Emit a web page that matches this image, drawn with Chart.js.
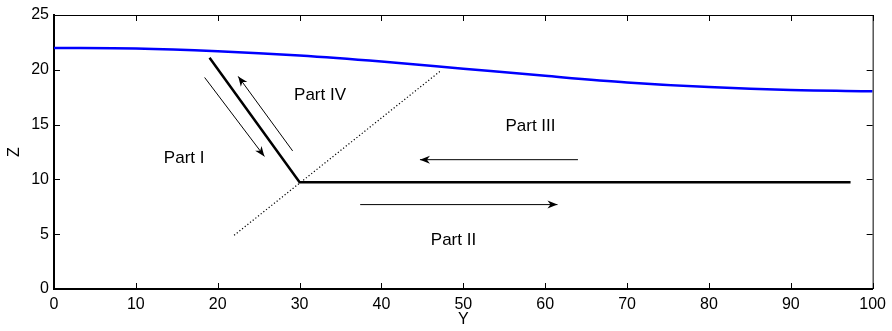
<!DOCTYPE html>
<html>
<head>
<meta charset="utf-8">
<script src="https://cdn.jsdelivr.net/npm/chart.js@4"></script>
<style>
  html, body { margin: 0; padding: 0; background: #fff; }
  #wrap { width: 892px; height: 331px; }
</style>
</head>
<body>
<div id="wrap"><canvas id="chart" width="892" height="331"></canvas></div>
<script>
// free surface (blue curve)
const surfaceY = [0, 10, 20, 30, 40, 50, 60, 70, 80, 90, 100];
const surfaceZ = [22.0, 21.95, 21.7, 21.3, 20.75, 20.1, 19.45, 18.85, 18.42, 18.15, 18.05];

// breakwater outline (thick black)
const wallY = [19, 30, 97.3];
const wallZ = [21.1, 9.75, 9.75];

// dotted divider
const dividerY = [22, 47.3];
const dividerZ = [4.9, 19.95];

// flow arrows: from -> to
const arrowFromY = [18.4, 29.15, 64.0, 37.4];
const arrowFromZ = [19.3, 12.6, 11.8, 7.7];
const arrowToY = [25.7, 22.5, 44.7, 61.5];
const arrowToZ = [12.1, 19.4, 11.8, 7.7];

// region labels
const partLabels = ['Part I', 'Part II', 'Part III', 'Part IV'];
const partY = [15.9, 48.8, 58.2, 32.5];
const partZ = [11.9, 4.45, 14.8, 17.7];

const xTicks = [0, 10, 20, 30, 40, 50, 60, 70, 80, 90, 100];
const yTicks = [0, 5, 10, 15, 20, 25];

const FONT = 'Liberation Sans, Arial, Helvetica, sans-serif';

function pts(xs, ys) {
  return xs.map((x, i) => ({ x: x, y: ys[i] }));
}

const datasets = [
  {
    data: pts(surfaceY, surfaceZ),
    borderColor: '#0000ff',
    borderWidth: 2.5,
    cubicInterpolationMode: 'monotone',
  },
  {
    data: pts(wallY, wallZ),
    borderColor: '#000',
    borderWidth: 2.5,
  },
  {
    data: pts(dividerY, dividerZ),
    borderColor: '#000',
    borderWidth: 1.2,
    borderDash: [1.2, 2.2],
  },
];
arrowFromY.forEach((y, i) => {
  datasets.push({
    data: [{ x: y, y: arrowFromZ[i] }, { x: arrowToY[i], y: arrowToZ[i] }],
    borderColor: '#000',
    borderWidth: 1,
    isArrow: true,
  });
});
datasets.forEach((d) => {
  d.showLine = true;
  d.pointRadius = 0;
  d.pointHoverRadius = 0;
  d.fill = false;
});

// arrowheads, inward ticks, top/right box, text labels
const decorations = {
  id: 'decorations',
  afterDatasetsDraw(chart) {
    const ctx = chart.ctx;
    const xs = chart.scales.x;
    const ys = chart.scales.y;
    const area = chart.chartArea;

    ctx.save();
    // arrowheads
    chart.data.datasets.forEach((ds, i) => {
      if (!ds.isArrow) return;
      const meta = chart.getDatasetMeta(i);
      const a = meta.data[0];
      const b = meta.data[1];
      const ang = Math.atan2(b.y - a.y, b.x - a.x);
      const len = 10, half = 4, back = 7;
      ctx.save();
      ctx.translate(b.x, b.y);
      ctx.rotate(ang);
      ctx.beginPath();
      ctx.moveTo(0, 0);
      ctx.lineTo(-len, -half);
      ctx.lineTo(-back, 0);
      ctx.lineTo(-len, half);
      ctx.closePath();
      ctx.fillStyle = '#000';
      ctx.fill();
      ctx.restore();
    });

    // top and right box lines
    ctx.strokeStyle = '#000';
    ctx.lineWidth = 1;
    ctx.beginPath();
    ctx.moveTo(area.left, area.top + 0.5);
    ctx.lineTo(area.right + 0.5, area.top + 0.5);
    ctx.lineTo(area.right + 0.5, area.bottom);
    ctx.stroke();

    // inward ticks on all four sides
    const tl = 6;
    ctx.beginPath();
    xTicks.forEach((v) => {
      const px = Math.round(xs.getPixelForValue(v)) + 0.5;
      ctx.moveTo(px, area.bottom);
      ctx.lineTo(px, area.bottom - tl);
      ctx.moveTo(px, area.top);
      ctx.lineTo(px, area.top + tl);
    });
    yTicks.forEach((v) => {
      const py = Math.round(ys.getPixelForValue(v)) + 0.5;
      ctx.moveTo(area.left, py);
      ctx.lineTo(area.left + tl, py);
      ctx.moveTo(area.right, py);
      ctx.lineTo(area.right - tl, py);
    });
    ctx.stroke();

    // region labels
    ctx.fillStyle = '#000';
    ctx.font = '17px ' + FONT;
    ctx.textAlign = 'center';
    ctx.textBaseline = 'middle';
    partLabels.forEach((t, i) => {
      ctx.fillText(t, xs.getPixelForValue(partY[i]), ys.getPixelForValue(partZ[i]));
    });
    ctx.restore();
  },
};

new Chart(document.getElementById('chart'), {
  type: 'scatter',
  data: { datasets: datasets },
  options: {
    responsive: false,
    animation: false,
    events: [],
    layout: { padding: { top: 15, right: 17, left: 0, bottom: 0 } },
    plugins: {
      legend: { display: false },
      tooltip: { enabled: false },
    },
    scales: {
      x: {
        type: 'linear',
        min: 0,
        max: 100,
        afterBuildTicks: (scale) => {
          scale.ticks = xTicks.map((v) => ({ value: v }));
        },
        afterFit: (scale) => {
          scale.height = 42;
        },
        grid: { display: false, drawTicks: false },
        border: { display: true, color: '#000', width: 2 },
        ticks: {
          color: '#000',
          font: { family: FONT, size: 16 },
          padding: 6,
          maxRotation: 0,
        },
        title: {
          display: true,
          text: 'Y',
          color: '#000',
          font: { family: FONT, size: 16 },
          padding: { top: 0, bottom: 2 },
        },
      },
      y: {
        type: 'linear',
        min: 0,
        max: 25,
        afterBuildTicks: (scale) => {
          scale.ticks = yTicks.map((v) => ({ value: v }));
        },
        afterFit: (scale) => {
          scale.width = 54;
        },
        grid: { display: false, drawTicks: false },
        border: { display: true, color: '#000', width: 2 },
        ticks: {
          color: '#000',
          font: { family: FONT, size: 16 },
          padding: 5,
        },
        title: {
          display: true,
          text: 'Z',
          color: '#000',
          font: { family: FONT, size: 16 },
          padding: { top: 5, bottom: 0 },
        },
      },
    },
  },
  plugins: [decorations],
});
</script>
</body>
</html>
